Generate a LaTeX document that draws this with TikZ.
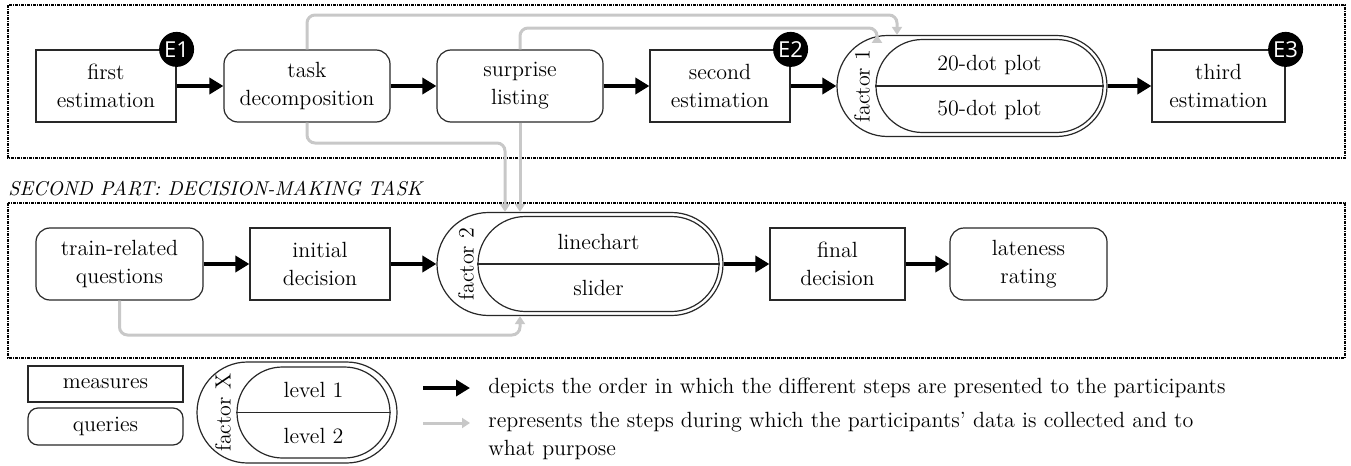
\documentclass[tikz,border=0pt]{standalone}
\usepackage{fontspec}
\newfontfamily\badgefont{Open Sans}
\usetikzlibrary{arrows.meta,calc}
\definecolor{lc}{RGB}{40,40,40}
\definecolor{gr}{RGB}{200,200,200}
\begin{document}
\begin{tikzpicture}[x=0.5pt,y=-0.5pt,
  txt/.style={font=\fontsize{11}{14}\selectfont},
  box/.style={draw=lc, line width=0.6pt, align=center, inner sep=0pt, minimum height=36pt, txt},
  measure/.style={box},
  query/.style={box, rounded corners=7pt},
  stadium/.style={draw=lc, line width=0.6pt, inner sep=0pt},
  badge/.style={circle, fill=black, text=white, inner sep=0pt, minimum size=17.5pt, font=\badgefont\fontsize{11}{11}\selectfont},
  flow/.style={line width=2pt, -{Triangle[length=7pt,width=8pt]}},
  data/.style={draw=gr, line width=1.5pt, rounded corners=4pt, -{Triangle[length=4pt,width=5pt]}},
  frame/.style={draw=black, line width=0.7pt, dash pattern=on 1.5pt off 0.5pt on 0.5pt off 0.5pt},
]
\useasboundingbox (0,0) rectangle (1351,466);
% frames
\draw[frame] (8,5) rectangle (1345,158);
\draw[frame] (8,203) rectangle (1345,358);
\node[font=\fontsize{10}{12}\selectfont\itshape, anchor=base west, inner sep=0pt] (lbl) at (8,195) {SECOND PART: DECISION-MAKING TASK};

% helper coordinates
\coordinate (y15) at (0,15);
\coordinate (y28) at (0,28);
\coordinate (y143) at (0,143);
\coordinate (y335) at (0,335);

% top row
\node[measure, minimum width=70pt] (fe) at (106,86) {first\\estimation};
\node[query, minimum width=83pt] (td) at (307,86) {task\\decomposition};
\node[query, minimum width=83pt] (sl) at (520,86) {surprise\\listing};
\node[measure, minimum width=70pt] (se) at (720,86) {second\\estimation};
\node[stadium, minimum width=135pt, minimum height=50.5pt, rounded corners=25.25pt] (f1) at (972,86) {};
\node[stadium, minimum width=113.5pt, minimum height=46.5pt, rounded corners=23.25pt] (f1i) at (989.5,86) {};
\draw[lc, line width=0.6pt] (f1i.west) -- (f1i.east);
\node[txt] (f1a) at (989.5,65) {20-dot plot};
\node[txt] (f1b) at (989.5,110) {50-dot plot};
\node[txt, rotate=90] (f1l) at (862,86) {factor 1};
\node[measure, minimum width=66.5pt] (te) at (1218.5,86) {third\\estimation};
\node[badge] (e1) at (fe.north east) {E1};
\node[badge] (e2) at (se.north east) {E2};
\node[badge] (e3) at (te.north east) {E3};

% bottom row
\node[query, minimum width=83.5pt] (tr) at (119.5,264) {train-related\\questions};
\node[measure, minimum width=70pt] (id) at (320,264) {initial\\decision};
\node[stadium, minimum width=143pt, minimum height=51.5pt, rounded corners=25.75pt] (f2) at (580,264) {};
\node[stadium, minimum width=120.5pt, minimum height=47.5pt, rounded corners=23.75pt] (f2i) at (598.5,264) {};
\draw[lc, line width=0.6pt] (f2i.west) -- (f2i.east);
\node[txt] (f2a) at (598.5,242) {linechart};
\node[txt] (f2b) at (598.5,288) {slider};
\node[txt, rotate=90] (f2l) at (466,264) {factor 2};
\node[measure, minimum width=67.5pt] (fd) at (837.5,264) {final\\decision};
\node[query, minimum width=78.5pt] (lr) at (1028.5,264) {lateness\\rating};

% flow arrows
\draw[flow] (fe) -- (td);
\draw[flow] (td) -- (sl);
\draw[flow] (sl) -- (se);
\draw[flow] (se.east) -- (f1.west);
\draw[flow] (f1.east) -- (te.west);
\draw[flow] (tr) -- (id);
\draw[flow] (id.east) -- (f2.west);
\draw[flow] (f2.east) -- (fd.west);
\draw[flow] (fd) -- (lr);

% data arrows
\draw[data] (td.north) -- (td.north |- y15) -| ([xshift=-37.5pt]f1.north);
\draw[data] (sl.north) -- (sl.north |- y28) -| ([xshift=-47.5pt]f1.north);
\draw[data] (td.south) -- (td.south |- y143) -| ([xshift=-37.5pt]f2.north);
\draw[data] (sl.south) -- (sl.south |- f2.north);
\draw[data] (tr.south) -- (tr.south |- y335) -| ([xshift=-30pt]f2.south);

% legend
\node[measure, minimum width=77.5pt, minimum height=18pt] (lm) at (105.5,384) {measures};
\node[query, rounded corners=5pt, minimum width=77.5pt, minimum height=18.5pt] (lq) at (105.5,426.5) {queries};
\node[stadium, minimum width=100pt, minimum height=50.5pt, rounded corners=25.25pt] (fx) at (297,412.5) {};
\node[stadium, minimum width=76.5pt, minimum height=45.5pt, rounded corners=22.75pt] (fxi) at (313.5,412.5) {};
\draw[lc, line width=0.6pt] (fxi.west) -- (fxi.east);
\node[txt] (fxa) at (313.5,390) {level 1};
\node[txt] (fxb) at (313.5,436) {level 2};
\node[txt, rotate=90] (fxl) at (223,412.5) {factor X};

\coordinate (la1) at (423,388);
\coordinate (la2) at (470,388);
\coordinate (lb1) at (423,423);
\coordinate (lb2) at (470,423);
\draw[flow] (la1) -- (la2);
\draw[data] (lb1) -- (lb2);
\node[txt, anchor=west, inner sep=0pt] (lt1) at (488,388) {depicts the order in which the different steps are presented to the participants};
\node[txt, anchor=west, align=left, inner sep=0pt] (lt2) at (488,436) {represents the steps during which the participants’ data is collected and to\\what purpose};
\end{tikzpicture}
\end{document}
